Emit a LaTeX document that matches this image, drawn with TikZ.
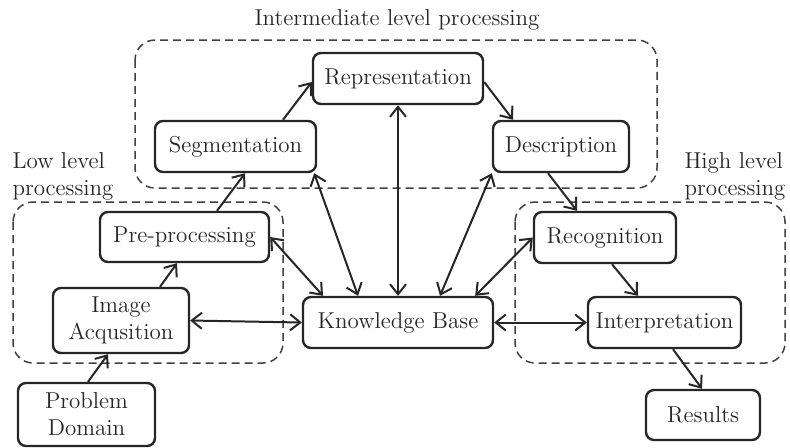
\documentclass[tikz,border=0pt]{standalone}
\usetikzlibrary{arrows.meta,calc}
\begin{document}
\begin{tikzpicture}[x=0.5pt,y=-0.5pt,
  every node/.style={font=\fontsize{11.5}{13.5}\selectfont, text=black!85},
  box/.style={draw=black!85, line width=1.2pt, rounded corners=4pt, inner sep=0pt, align=center},
  grp/.style={draw=black!75, line width=0.75pt, dash pattern=on 4pt off 2.5pt, rounded corners=10pt},
  arr/.style={draw=black!85, line width=1pt, -{Straight Barb[length=5pt,width=8pt]}},
  biarr/.style={draw=black!85, line width=1pt, {Straight Barb[length=5pt,width=8pt]}-{Straight Barb[length=5pt,width=8pt]}},
  lbl/.style={align=left, inner sep=0pt}]
\useasboundingbox (0,0) rectangle (790,447);
% groups
\draw[grp] (135,40) rectangle (657,188);
\draw[grp] (13,202) rectangle (283,363);
\draw[grp] (515,202) rectangle (785,363);
\node[inner sep=0pt] (tinter) at (397,20) {Intermediate level processing};
\node[lbl, align=left] (tlow) at (63,176) {Low level\\processing};
\node[lbl, align=left] (thigh) at (735,176) {High level\\processing};
% boxes
\node[box, minimum width=85pt, minimum height=25.5pt] (rep) at (398,78.5) {Representation};
\node[box, minimum width=80.5pt, minimum height=25.5pt] (seg) at (235.5,146.5) {Segmentation};
\node[box, minimum width=68pt, minimum height=25.5pt] (desc) at (561,146.5) {Description};
\node[box, minimum width=84.5pt, minimum height=25pt] (pre) at (184.5,237) {Pre-processing};
\node[box, minimum width=68pt, minimum height=32.5pt] (img) at (121,320.5) {Image\\Acqusition};
\node[box, minimum width=95pt, minimum height=25.5pt] (kb) at (398,322.5) {Knowledge Base};
\node[box, minimum width=71pt, minimum height=25.5pt] (rec) at (605,237.5) {Recognition};
\node[box, minimum width=76.5pt, minimum height=25.5pt] (int) at (664.5,322.5) {Interpretation};
\node[box, minimum width=68.5pt, minimum height=31.5pt] (pd) at (86.5,414.5) {Problem\\Domain};
\node[box, minimum width=57pt, minimum height=25pt] (res) at (703,415) {Results};
% flow arrows
\draw[arr] ($(pd.north)+(1.5,0)$) -- ($(img.south)+(-13,0)$);
\draw[arr] ($(img.north)+(39,0)$) -- ($(pre.south)+(-7.5,0)$);
\draw[arr] ($(pre.north)+(32.5,0)$) -- ($(seg.south)+(9.5,0)$);
\draw[arr] ($(seg.north)+(47.5,0)$) -- ($(rep.west)+(0,3.5)$);
\draw[arr] ($(rep.east)+(0,3.5)$) -- ($(desc.north)+(-48,0)$);
\draw[arr] ($(desc.south)+(-13,0)$) -- ($(rec.north)+(-28,0)$);
\draw[arr] ($(rec.south)+(7,0)$) -- ($(int.north)+(-26.5,0)$);
\draw[arr] ($(int.south)+(8.5,0)$) -- ($(res.north)+(-1,0)$);
% knowledge base links
\draw[biarr] (img.east) -- (kb.west);
\draw[biarr] (kb.east) -- (int.west);
\draw[biarr] (pre.east) -- ($(kb.north)+(-75,0)$);
\draw[biarr] ($(seg.south east)+(-3,0)$) -- ($(kb.north)+(-40,0)$);
\draw[biarr] (rep.south) -- (kb.north);
\draw[biarr] (desc.south west) -- ($(kb.north)+(42,0)$);
\draw[biarr] (rec.west) -- ($(kb.north east)+(-19,0)$);
\end{tikzpicture}
\end{document}
